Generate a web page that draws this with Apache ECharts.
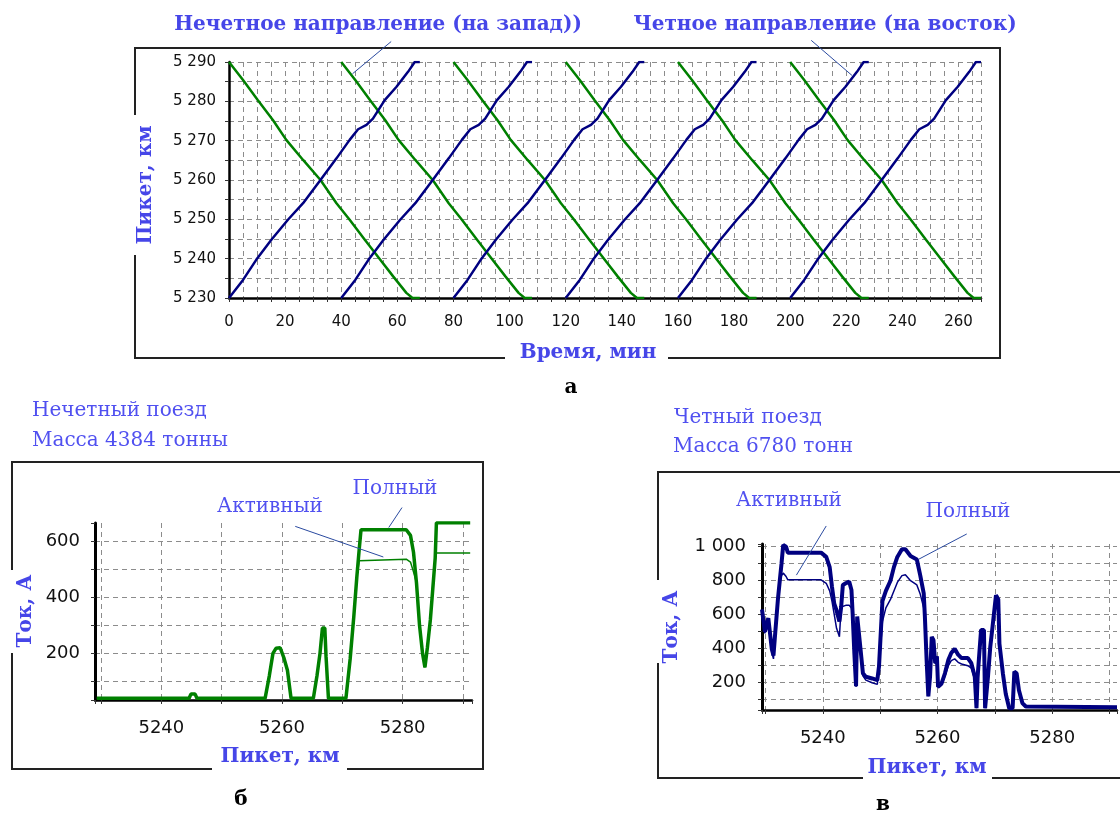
<!DOCTYPE html>
<html><head><meta charset="utf-8">
<script src="https://cdn.jsdelivr.net/npm/echarts@6/dist/echarts.min.js"></script>
<style>html,body{margin:0;padding:0;background:#fff;}#c{width:1120px;height:814px;}</style>
</head><body><div id="c"></div>
<script>
// ---------- Chart "а": train graph (time, min  vs  picket, km) ----------
const departuresEast = [0, 40, 80, 120, 160, 200];   // чётные (на восток), синие
const departuresWest = [0, 40, 80, 120, 160, 200];   // нечётные (на запад), зелёные
const eastRunMin = [0, 5.0, 9.7, 15.1, 21.0, 26.4, 32.6, 38.3, 43.0, 46.0, 49.0, 51.3, 55.5, 59.7, 63.8, 66.2, 68.0];
const eastRunKm  = [5230, 5234.6, 5239.7, 5244.8, 5249.9, 5254.1, 5260, 5265.5, 5270.2, 5272.9, 5274, 5275.6, 5280.3, 5283.7, 5287.5, 5290, 5290];
const westRunMin = [0, 5.0, 10.3, 15.7, 20.4, 26.4, 32.6, 38.3, 43.0, 48.4, 53.5, 58.5, 63.2, 65.4, 68.0];
const westRunKm  = [5290, 5285.4, 5280.3, 5275.2, 5270.2, 5265.1, 5260, 5254.1, 5249.9, 5244.8, 5240.1, 5235.5, 5231.3, 5230, 5230];

// ---------- Chart "б": нечётный поезд, 4384 т ----------
const kmB = [5229.3, 5244.6, 5244.9, 5245.6, 5245.9, 5257.2, 5257.9, 5258.5, 5259, 5259.7, 5260.3, 5260.9, 5261.5, 5265.2, 5265.8, 5266.3, 5266.7, 5267.1, 5267.3, 5267.7, 5270.6, 5271.3, 5271.9, 5272.4, 5272.8, 5273.1, 5280.6, 5281.3, 5281.8, 5282.3, 5282.8, 5283.3, 5283.7, 5284.1, 5284.6, 5285, 5285.4, 5285.6, 5291.2];
const fullB   = [40, 40, 55, 55, 40, 40, 120, 200, 218, 220, 185, 140, 40, 40, 120, 200, 290, 290, 190, 40, 40, 180, 330, 470, 570, 640, 640, 620, 560, 450, 300, 200, 150, 220, 320, 430, 540, 665, 665];
const activeB = [40, 40, 55, 55, 40, 40, 120, 200, 218, 220, 185, 140, 40, 40, 120, 200, 290, 290, 190, 40, 40, 180, 330, 470, 530, 535, 535, 525, 490, 450, 300, 200, 150, 220, 320, 430, 540, 557, 557];

// ---------- Chart "в": чётный поезд, 6780 т ----------
const kmV = [5229.4, 5229.9, 5230.5, 5231.1, 5231.4, 5231.7, 5232.2, 5232.5, 5232.8, 5233.1, 5233.6, 5233.9, 5239.7, 5240.6, 5241.2, 5241.6, 5242, 5242.4, 5242.9, 5243.2, 5243.5, 5244, 5244.6, 5245, 5245.2, 5245.5, 5245.8, 5246, 5246.3, 5246.6, 5247, 5247.5, 5248.6, 5249.5, 5249.8, 5250.4, 5251, 5251.8, 5252.4, 5253, 5253.8, 5254.4, 5255.3, 5256.4, 5257, 5257.6, 5257.8, 5258.1, 5258.4, 5258.7, 5259, 5259.3, 5259.6, 5259.9, 5260.1, 5260.7, 5261.3, 5261.9, 5262.4, 5263, 5263.6, 5264.2, 5265.3, 5265.9, 5266.5, 5266.8, 5267, 5267.3, 5267.6, 5268.1, 5268.3, 5268.8, 5269.2, 5269.6, 5270.2, 5270.6, 5270.8, 5271.4, 5271.9, 5272.5, 5273.1, 5273.4, 5273.8, 5274.2, 5274.8, 5275.4, 5291.3];
const fullV = [630, 500, 580, 400, 360, 490, 700, 800, 900, 1010, 1000, 965, 965, 940, 880, 765, 665, 625, 560, 645, 775, 785, 795, 745, 610, 375, 180, 590, 590, 390, 255, 235, 225, 215, 295, 680, 740, 800, 880, 940, 985, 985, 945, 925, 830, 725, 590, 335, 120, 235, 470, 450, 315, 355, 175, 195, 255, 335, 375, 400, 365, 345, 345, 315, 235, 50, 235, 375, 510, 510, 50, 235, 410, 530, 715, 690, 430, 255, 135, 50, 50, 265, 255, 155, 80, 60, 55];
const activeV = [630, 490, 570, 380, 340, 480, 690, 790, 830, 845, 825, 805, 805, 785, 740, 680, 600, 520, 470, 645, 655, 655, 655, 640, 590, 375, 175, 580, 580, 380, 240, 215, 200, 190, 280, 560, 640, 690, 740, 790, 830, 835, 800, 775, 720, 640, 560, 330, 120, 235, 460, 440, 310, 345, 170, 185, 240, 300, 330, 340, 320, 310, 300, 285, 220, 50, 225, 360, 490, 490, 50, 225, 395, 510, 690, 665, 420, 250, 130, 50, 50, 255, 245, 150, 78, 58, 55];

// ---------- styling ----------
const BLUE = '#000080', GREEN = '#008000';
const TITLE = '#4646e8', SUB = '#5050f0';
const GRIDC = '#8c8c8c';
const sp = v => String(Math.round(v)).replace(/\B(?=(\d{3})+(?!\d))/g, ' ');

function axisCommon(fs, margin) {
  return {
    axisLine: {show: true, onZero: false, lineStyle: {color: '#000', width: 2.5}},
    axisTick: {show: true, inside: false, length: 4, lineStyle: {color: '#333', width: 1}},
    axisLabel: {color: '#111', fontFamily: 'DejaVu Sans', fontSize: fs, margin: margin},
    splitLine: {show: true, lineStyle: {color: GRIDC, width: 1, type: [5, 4]}}
  };
}
function mk(base, extra) {
  const o = JSON.parse(JSON.stringify(base));
  for (const k in extra) {
    if (typeof extra[k] === 'object' && !Array.isArray(extra[k]) && o[k]) Object.assign(o[k], extra[k]);
    else o[k] = extra[k];
  }
  return o;
}

const series = [];
departuresWest.forEach(d => series.push({
  type: 'line', xAxisIndex: 0, yAxisIndex: 0, symbol: 'none', silent: true,
  lineStyle: {color: GREEN, width: 2.5}, data: westRunMin.map((m, i) => [d + m, westRunKm[i]])
}));
departuresEast.forEach(d => series.push({
  type: 'line', xAxisIndex: 0, yAxisIndex: 0, symbol: 'none', silent: true,
  lineStyle: {color: BLUE, width: 2.5}, data: eastRunMin.map((m, i) => [d + m, eastRunKm[i]])
}));
series.push({type: 'line', name: 'Полный', xAxisIndex: 1, yAxisIndex: 1, symbol: 'none', silent: true,
  lineStyle: {color: GREEN, width: 3.5}, data: kmB.map((k, i) => [k, fullB[i]])});
series.push({type: 'line', name: 'Активный', xAxisIndex: 1, yAxisIndex: 1, symbol: 'none', silent: true,
  lineStyle: {color: GREEN, width: 1.5}, data: kmB.map((k, i) => [k, activeB[i]])});
series.push({type: 'line', name: 'Полный', xAxisIndex: 2, yAxisIndex: 2, symbol: 'none', silent: true,
  lineStyle: {color: BLUE, width: 4}, data: kmV.map((k, i) => [k, fullV[i]])});
series.push({type: 'line', name: 'Активный', xAxisIndex: 2, yAxisIndex: 2, symbol: 'none', silent: true,
  lineStyle: {color: BLUE, width: 1.5}, data: kmV.map((k, i) => [k, activeV[i]])});

const a0 = axisCommon(15, 17), b0 = axisCommon(18, 19), c0 = axisCommon(18, 19);
const option = {
  animation: false,
  backgroundColor: '#fff',
  grid: [
    {left: 229, top: 62, right: 139, bottom: 516},
    {left: 95, top: 523, right: 648, bottom: 114},
    {left: 762, top: 544, right: 0, bottom: 104}
  ],
  xAxis: [
    mk(a0, {type: 'value', gridIndex: 0, min: 0, max: 268, interval: 5,
      axisLabel: {formatter: v => (v % 20 === 0 ? String(v) : '')}}),
    mk(b0, {type: 'value', gridIndex: 1, min: 5229, max: 5291.5, splitNumber: 6, minInterval: 10, maxInterval: 10,
      axisLabel: {formatter: v => (Math.abs(v % 20) < 1e-6 ? String(v) : '')},
      splitLine: {showMinLine: false, showMaxLine: false}}),
    mk(c0, {type: 'value', gridIndex: 2, min: 5229.4, max: 5291.3, splitNumber: 6, minInterval: 10, maxInterval: 10,
      axisLabel: {formatter: v => (Math.abs(v % 20) < 1e-6 ? String(v) : '')},
      splitLine: {showMinLine: false, showMaxLine: false}})
  ],
  yAxis: [
    mk(a0, {type: 'value', gridIndex: 0, min: 5230, max: 5290, interval: 5,
      axisLabel: {margin: 13, formatter: v => (v % 10 === 0 ? sp(v) : '')}}),
    mk(b0, {type: 'value', gridIndex: 1, min: 34, max: 664, splitNumber: 6, minInterval: 100, maxInterval: 100,
      axisLine: {lineStyle: {color: '#000', width: 3}},
      axisLabel: {margin: 15, formatter: v => (Math.abs(v % 200) < 1e-6 ? sp(v) : '')},
      splitLine: {showMinLine: false, showMaxLine: false}}),
    mk(c0, {type: 'value', gridIndex: 2, min: 39.4, max: 1016, splitNumber: 8, minInterval: 100, maxInterval: 100,
      axisLine: {lineStyle: {color: '#000', width: 3}},
      axisLabel: {margin: 16, formatter: v => (Math.abs(v % 200) < 1e-6 ? sp(v) : '')},
      splitLine: {showMinLine: false, showMaxLine: false}})
  ],
  series: series
};

const chart = echarts.init(document.getElementById('c'), null, {renderer: 'canvas'});
chart.setOption(option);

// ---------- annotations ----------
const g = [];
function frame(pts) {
  g.push({type: 'polyline', silent: true, z: 10, shape: {points: pts},
    style: {stroke: '#222', lineWidth: 2, fill: null}});
}
function txt(s, x, y, o) {
  o = o || {};
  g.push({type: 'text', silent: true, z: 20, x: x, y: y, rotation: o.rot || 0,
    style: {text: s, fill: o.color || TITLE, font: (o.bold === false ? '' : 'bold ') + (o.size || 20) + 'px "DejaVu Serif"',
      align: o.align || 'center', verticalAlign: 'middle'}});
}
// frames
frame([[135, 115], [135, 48], [1000, 48], [1000, 358], [668, 358]]);
frame([[505, 358], [135, 358], [135, 255]]);
frame([[12, 570], [12, 462], [483, 462], [483, 769], [347, 769]]);
frame([[212, 769], [12, 769], [12, 653]]);
frame([[658, 580], [658, 472], [1125, 472]]);
frame([[1125, 778], [992, 778]]);
frame([[863, 778], [658, 778], [658, 663]]);

// chart а texts
txt('Нечетное направление (на запад))', 378, 25);
txt('Четное направление (на восток)', 825, 25);
txt('Пикет, км', 146, 185, {rot: Math.PI / 2});
txt('Время, мин', 588, 353);
txt('а', 571, 388, {color: '#000'});
// chart б texts
txt('Нечетный поезд', 32, 411, {bold: false, align: 'left', color: SUB});
txt('Масса 4384 тонны', 32, 441, {bold: false, align: 'left', color: SUB});
txt('Активный', 270, 507, {bold: false, color: SUB});
txt('Полный', 395, 489, {bold: false, color: SUB});
txt('Ток, А', 26, 611, {rot: Math.PI / 2});
txt('Пикет, км', 280, 757);
txt('б', 241, 800, {color: '#000'});
// chart в texts
txt('Четный поезд', 674, 418, {bold: false, align: 'left', color: SUB});
txt('Масса 6780 тонн', 673, 447, {bold: false, align: 'left', color: SUB});
txt('Активный', 789, 501, {bold: false, color: SUB});
txt('Полный', 968, 512, {bold: false, color: SUB});
txt('Ток, А', 672, 627, {rot: Math.PI / 2});
txt('Пикет, км', 927, 768);
txt('в', 883, 805, {color: '#000'});

// leader lines: label end -> point on curve, given in data coordinates
const leaders = [
  {grid: 0, from: [57.8, 5295.2], to: [44.0, 5287.0]},
  {grid: 0, from: [207.5, 5295.5], to: [222.0, 5286.6]},
  {grid: 1, from: [5279.9, 719], to: [5277.7, 648]},
  {grid: 1, from: [5262.2, 652], to: [5276.8, 543]},
  {grid: 2, from: [5240.6, 1122], to: [5235.4, 833]},
  {grid: 2, from: [5265.1, 1075], to: [5256.7, 926]}
];
leaders.forEach(l => {
  const p1 = chart.convertToPixel({gridIndex: l.grid}, l.from);
  const p2 = chart.convertToPixel({gridIndex: l.grid}, l.to);
  g.push({type: 'line', silent: true, z: 15, shape: {x1: p1[0], y1: p1[1], x2: p2[0], y2: p2[1]},
    style: {stroke: '#2a4aa0', lineWidth: 1}});
});
chart.setOption({graphic: g});
</script></body></html>
